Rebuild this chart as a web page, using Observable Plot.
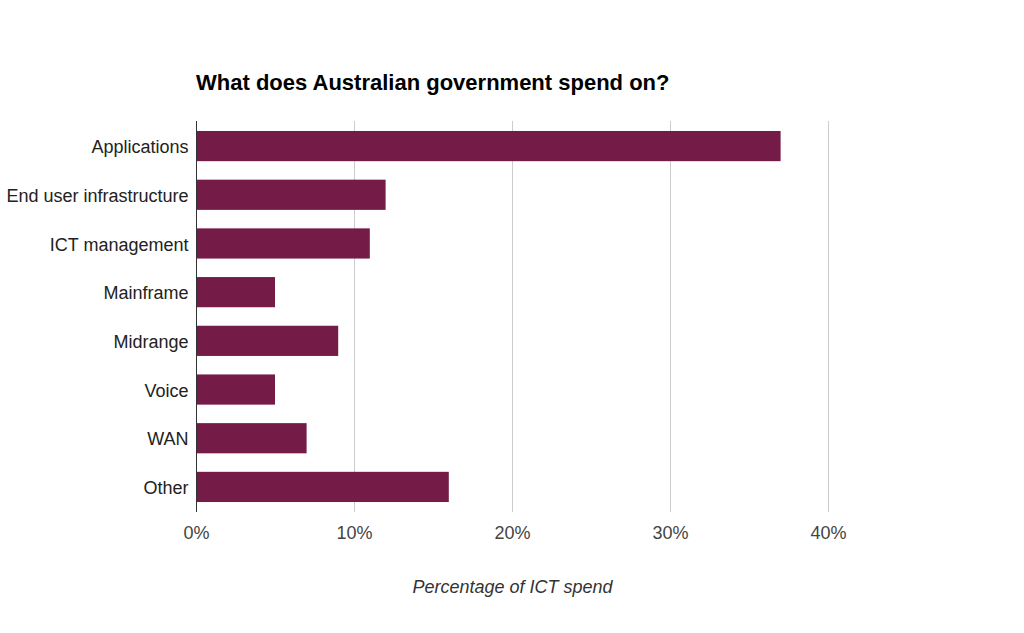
<!DOCTYPE html>
<html>
<head>
<meta charset="utf-8">
<script src="https://cdn.jsdelivr.net/npm/d3@7"></script>
<script src="https://cdn.jsdelivr.net/npm/@observablehq/plot@0.6"></script>
<style>
  html, body { margin: 0; padding: 0; background: #fff; }
  #wrap { position: relative; width: 1024px; height: 633px; overflow: hidden; }
  #title {
    position: absolute; left: 196px; top: 70px;
    font-family: "Liberation Sans", Arial, sans-serif;
    font-weight: bold; font-size: 22px; color: #000;
  }
  #chart { position: absolute; left: 0; top: 100px; }
</style>
</head>
<body>
<div id="wrap">
  <div id="title">What does Australian government spend on?</div>
  <div id="chart"></div>
</div>
<script>
// ICT spend categories and their share of total spend (%)
const categories = ["Applications", "End user infrastructure", "ICT management", "Mainframe", "Midrange", "Voice", "WAN", "Other"];
const shares = [37, 12, 11, 5, 9, 5, 7, 16];
const xTicks = [0, 10, 20, 30, 40];
const xTitle = "Percentage of ICT spend";

const rows = categories.map((c, i) => ({category: c, share: shares[i]}));

const font = "Liberation Sans, Arial, sans-serif";

const plot = Plot.plot({
  width: 1024,
  height: 533,
  marginTop: 21,
  marginBottom: 121,
  marginLeft: 196,
  marginRight: 196,
  style: {fontFamily: font, fontSize: "18px", background: "transparent"},
  x: {domain: [0, 40]},
  y: {domain: categories, paddingInner: 0.38, paddingOuter: 0.205, round: false},
  marks: [
    Plot.ruleX(xTicks.filter(d => d > 0), {stroke: "#cccccc", strokeWidth: 1}),
    Plot.barX(rows, {x: "share", y: "category", fill: "#741b47"}),
    Plot.ruleX([0], {stroke: "#333333", strokeWidth: 1}),
    Plot.axisY({tickSize: 0, tickPadding: 8, label: null, fill: "#222", fontSize: 18, dy: 1}),
    Plot.axisX({ticks: xTicks, tickSize: 0, tickPadding: 14, tickFormat: d => d + "%", label: null, fill: "#444", fontSize: 18}),
    Plot.text([xTitle], {frameAnchor: "bottom", dy: 75, lineAnchor: "middle", fontStyle: "italic", fontSize: 18, fill: "#333"})
  ]
});

document.getElementById("chart").appendChild(plot);
</script>
</body>
</html>
